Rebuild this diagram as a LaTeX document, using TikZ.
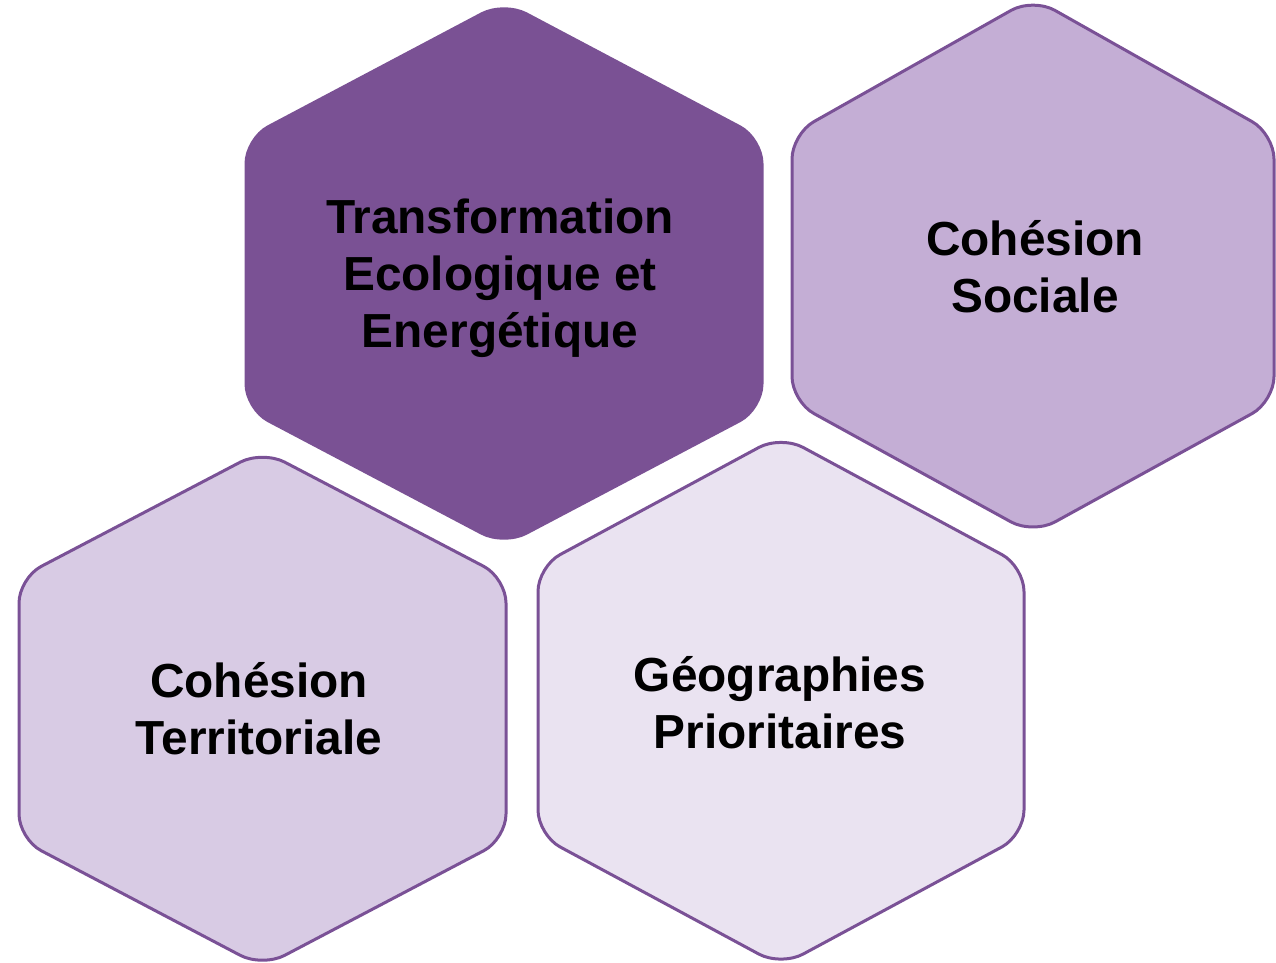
\documentclass[tikz,border=0pt]{standalone}
\usepackage{fontspec}
\setmainfont{Liberation Sans}
\definecolor{hexdark}{RGB}{122,81,148}
\definecolor{hexline}{RGB}{122,81,150}
\definecolor{hexmid}{RGB}{196,174,213}
\definecolor{hexlight}{RGB}{216,203,228}
\definecolor{hexpale}{RGB}{234,227,241}
\begin{document}
\begin{tikzpicture}[x=1pt,y=-1pt,
  hexshape/.style={draw=hexline,line width=3pt,rounded corners=25pt,line join=round},
  hexlabel/.style={font=\fontsize{47.8}{57}\selectfont\bfseries,align=center,text=black,inner sep=0pt}]
\useasboundingbox (0,0) rectangle (1276,962);
% Transformation Ecologique et Energetique
\draw[hexshape,fill=hexdark,draw=hexdark]
  (246,273) -- (246,138.5) -- (504,2) -- (762,138.5) -- (762,409) -- (504,545) -- (246,409) -- cycle;
% Cohesion Sociale
\draw[hexshape,fill=hexmid]
  (792,268) -- (792,134) -- (1033,-2) -- (1274,134) -- (1274,401.5) -- (1033,534) -- (792,401.5) -- cycle;
% Cohesion Territoriale
\draw[hexshape,fill=hexlight]
  (19,708) -- (19,578) -- (262.5,450.5) -- (506,578) -- (506,839) -- (262.5,967) -- (19,839) -- cycle;
% Geographies Prioritaires
\draw[hexshape,fill=hexpale]
  (538,700) -- (538,566.5) -- (781,435.5) -- (1024,566.5) -- (1024,835) -- (781,966) -- (538,835) -- cycle;
\node[hexlabel] (teee) at (500,278) {Transformation\\Ecologique et\\Energétique};
\node[hexlabel] (cs) at (1035,267) {Cohésion\\Sociale};
\node[hexlabel] (ct) at (259,709) {Cohésion\\Territoriale};
\node[hexlabel] (gp) at (780,703) {Géographies\\Prioritaires};
\end{tikzpicture}
\end{document}
